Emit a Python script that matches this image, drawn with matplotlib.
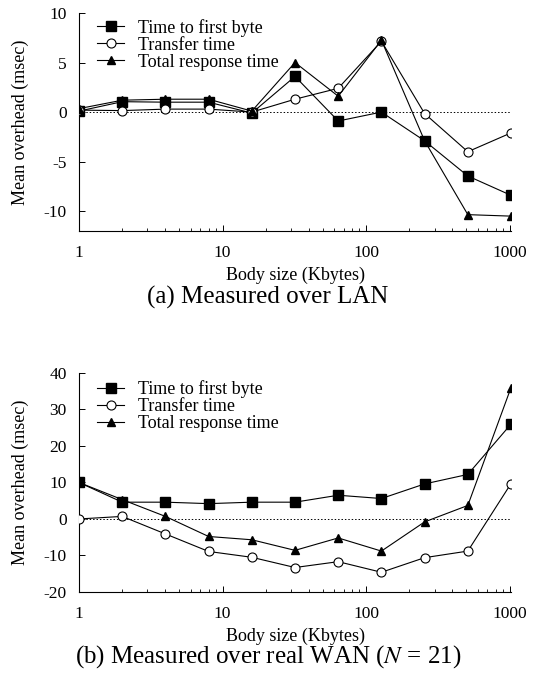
import matplotlib
matplotlib.use("Agg")
import matplotlib.pyplot as plt
from matplotlib.ticker import LogLocator, FixedLocator, NullFormatter

plt.rcParams["font.family"] = ["Liberation Serif", "DejaVu Serif"]
plt.rcParams["mathtext.fontset"] = "stix"
plt.rcParams["axes.unicode_minus"] = False

# Body sizes in Kbytes
sizes = [1, 2, 4, 8, 16, 32, 64, 128, 256, 512, 1024]

# (a) LAN
lan_first_byte = [0.1, 1.05, 1.0, 1.0, -0.1, 3.6, -0.9, 0.0, -2.9, -6.45, -8.4]
lan_transfer = [0.2, 0.15, 0.3, 0.3, 0.0, 1.3, 2.4, 7.15, -0.15, -4.0, -2.1]
lan_total = [0.35, 1.2, 1.3, 1.3, 0.1, 5.0, 1.6, 7.25, -2.9, -10.35, -10.5]

# (b) WAN
wan_first_byte = [10.0, 4.6, 4.6, 4.2, 4.6, 4.6, 6.5, 5.6, 9.6, 12.2, 26.0]
wan_transfer = [0.0, 0.7, -4.1, -8.9, -10.5, -13.3, -11.7, -14.6, -10.6, -8.8, 9.7]
wan_total = [10.0, 5.3, 0.7, -4.8, -5.7, -8.6, -5.2, -8.8, -0.8, 3.7, 36.0]

labels = ["Time to first byte", "Transfer time", "Total response time"]

fig = plt.figure(figsize=(5.36, 6.77), dpi=100)
ax_a = fig.add_axes([0.1474, 0.6588, 0.806, 0.322])
ax_b = fig.add_axes([0.1474, 0.1256, 0.806, 0.3235])


def draw_panel(ax, first, transfer, total, ylim, yticks, legend_y):
    ax.axhline(0, color="black", lw=0.7, ls=(0, (1.5, 2)), zorder=1)
    ax.plot(sizes, first, color="black", lw=0.8, marker="s", ms=6.5, mfc="black",
            label=labels[0], zorder=3)
    ax.plot(sizes, transfer, color="black", lw=0.8, marker="o", ms=6.5, mfc="white",
            mew=0.8, label=labels[1], zorder=4)
    ax.plot(sizes, total, color="black", lw=0.8, marker="^", ms=6, mfc="black",
            label=labels[2], zorder=5)
    ax.set_xscale("log")
    ax.set_xlim(1, 1024)
    ax.set_ylim(*ylim)
    ax.set_yticks(yticks)
    ax.xaxis.set_major_locator(FixedLocator([1, 10, 100, 1000]))
    ax.set_xticklabels(["1", "10", "100", "1000"])
    ax.xaxis.set_minor_locator(LogLocator(base=10, subs=range(2, 10)))
    ax.xaxis.set_minor_formatter(NullFormatter())
    ax.spines["top"].set_visible(False)
    ax.spines["right"].set_visible(False)
    ax.spines["left"].set_linewidth(0.8)
    ax.spines["bottom"].set_linewidth(0.8)
    ax.tick_params(axis="both", which="major", direction="in", length=4, width=0.7,
                   labelsize=12.5)
    ax.tick_params(axis="y", which="major", pad=9)
    ax.tick_params(axis="x", which="major", pad=10)
    ax.tick_params(axis="x", which="minor", direction="in", length=2.5, width=0.6)
    ax.set_xlabel("Body size (Kbytes)", fontsize=13, labelpad=4)
    ax.set_ylabel("Mean overhead (msec)", fontsize=13, labelpad=10)
    ax.legend(loc="upper left", bbox_to_anchor=(0.025, legend_y), frameon=False,
              fontsize=13, handlelength=1.5, handletextpad=0.75, labelspacing=0.0,
              borderaxespad=0.0)


draw_panel(ax_a, lan_first_byte, lan_transfer, lan_total, (-12, 10),
           [-10, -5, 0, 5, 10], 1.006)
draw_panel(ax_b, wan_first_byte, wan_transfer, wan_total, (-20, 40),
           [-20, -10, 0, 10, 20, 30, 40], 1.0)

fig.text(0.5, 1 - 297 / 677, "(a) Measured over LAN", ha="center", va="center",
         fontsize=18)
fig.text(0.5, 1 - 657 / 677, "(b) Measured over real WAN ($N$ = 21)", ha="center",
         va="center", fontsize=18)

fig.savefig("out.png", dpi=100)
